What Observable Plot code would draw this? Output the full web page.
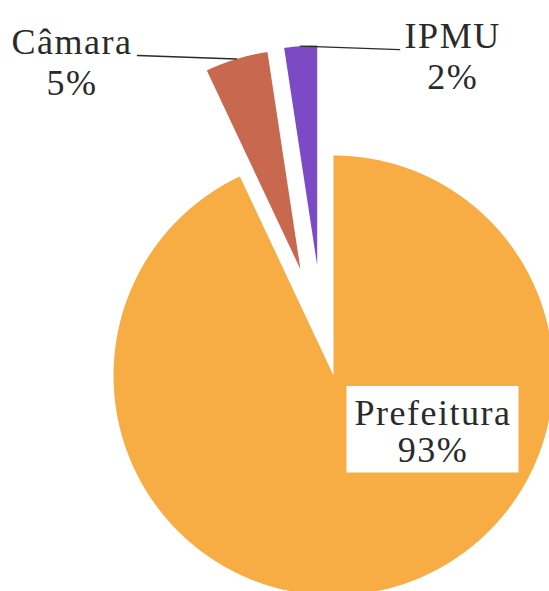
<!DOCTYPE html>
<html>
<head>
<meta charset="utf-8">
<script src="https://cdn.jsdelivr.net/npm/d3@7"></script>
<script src="https://cdn.jsdelivr.net/npm/@observablehq/plot@0.6"></script>
<style>
  body { margin: 0; background: #fff; }
  #chart svg text { letter-spacing: 1.5px; font-family: 'Liberation Serif', 'DejaVu Serif', 'Times New Roman', Times, serif !important; }
</style>
</head>
<body>
<div id="chart"></div>
<script>
// ---- data ----
const categories = ["Prefeitura", "Câmara", "IPMU"];
const shares = [93.0, 4.6, 2.4];
const colors = ["#f8ac44", "#c8684f", "#7b4ac4"];
const percentLabels = shares.map(v => `${Math.round(v)}%`);

// ---- layout (pixels) ----
const W = 549, H = 591, CX = 333, CY = 375, R = 220;
const FONT = "'Liberation Serif', 'DejaVu Serif', Times, serif", FS = 36, LS = 1.5;
// explode offsets in pixels (right, up)
const explodePx = {"Prefeitura": [0, 0], "Câmara": [-33, 106], "IPMU": [-16.3, 110]};
const pinSide = {"Câmara": -1, "IPMU": 1};
const pinLen = 0.45;

const arcs = d3.pie().sort(null).value(d => d)(shares);

const slicePoints = [];
const geo = {};
arcs.forEach((a, i) => {
  const name = categories[i];
  const mid = (a.startAngle + a.endAngle) / 2;
  const ox = explodePx[name][0] / R, oy = explodePx[name][1] / R;
  geo[name] = {mid, ox, oy};
  slicePoints.push({name, x: ox, y: oy});
  const n = Math.max(2, Math.ceil((a.endAngle - a.startAngle) / 0.004));
  for (let k = 0; k <= n; k++) {
    const t = a.startAngle + (a.endAngle - a.startAngle) * k / n;
    slicePoints.push({name, x: ox + Math.sin(t), y: oy + Math.cos(t)});
  }
});

const ctx = document.createElement("canvas").getContext("2d");
ctx.font = `${FS}px ${FONT}`;
const textW = s => ctx.measureText(s).width + LS * s.length;

const pins = [];
const labels = [];
categories.forEach((name, i) => {
  const g = geo[name];
  if (pinSide[name]) {
    const side = pinSide[name];
    const sx = g.ox + Math.sin(g.mid), sy = g.oy + Math.cos(g.mid);
    const ex = sx + side * pinLen, ey = sy - side * 3.5 / R;
    pins.push({name, x: sx, y: sy}, {name, x: ex, y: ey});
    const cxText = ex + side * (5 + textW(name) / 2) / R;
    const base = ey + 2 / R;
    labels.push({text: name, x: cxText, y: base});
    labels.push({text: percentLabels[i], x: cxText, y: base - 41 / R});
  } else {
    const bx = 99.5 / R, by = -54 / R;
    labels.push({text: name, x: bx, y: by + 5 / R});
    labels.push({text: percentLabels[i], x: bx, y: by - 32.7 / R});
  }
});
const boxes = [{x1: 13.5 / R, x2: 185.5 / R, y1: -97.5 / R, y2: -11 / R}];

const chart = Plot.plot({
  width: W,
  height: H,
  margin: 0,
  x: {domain: [-CX / R, (W - CX) / R], axis: null},
  y: {domain: [-(H - CY) / R, CY / R], axis: null},
  color: {domain: categories, range: colors},
  style: {fontFamily: FONT, background: "#fff"},
  marks: [
    Plot.line(slicePoints, {x: "x", y: "y", z: "name", fill: "name", stroke: null, curve: "linear"}),
    Plot.line(pins, {x: "x", y: "y", z: "name", stroke: "#2a2a2a", strokeWidth: 1.4}),
    Plot.rect(boxes, {x1: "x1", x2: "x2", y1: "y1", y2: "y2", fill: "white"}),
    Plot.text(labels, {x: "x", y: "y", text: "text", lineAnchor: "bottom", textAnchor: "middle",
      fontSize: FS, fontFamily: FONT, fill: "#2a2a2a"})
  ]
});
document.getElementById("chart").append(chart);
</script>
</body>
</html>
